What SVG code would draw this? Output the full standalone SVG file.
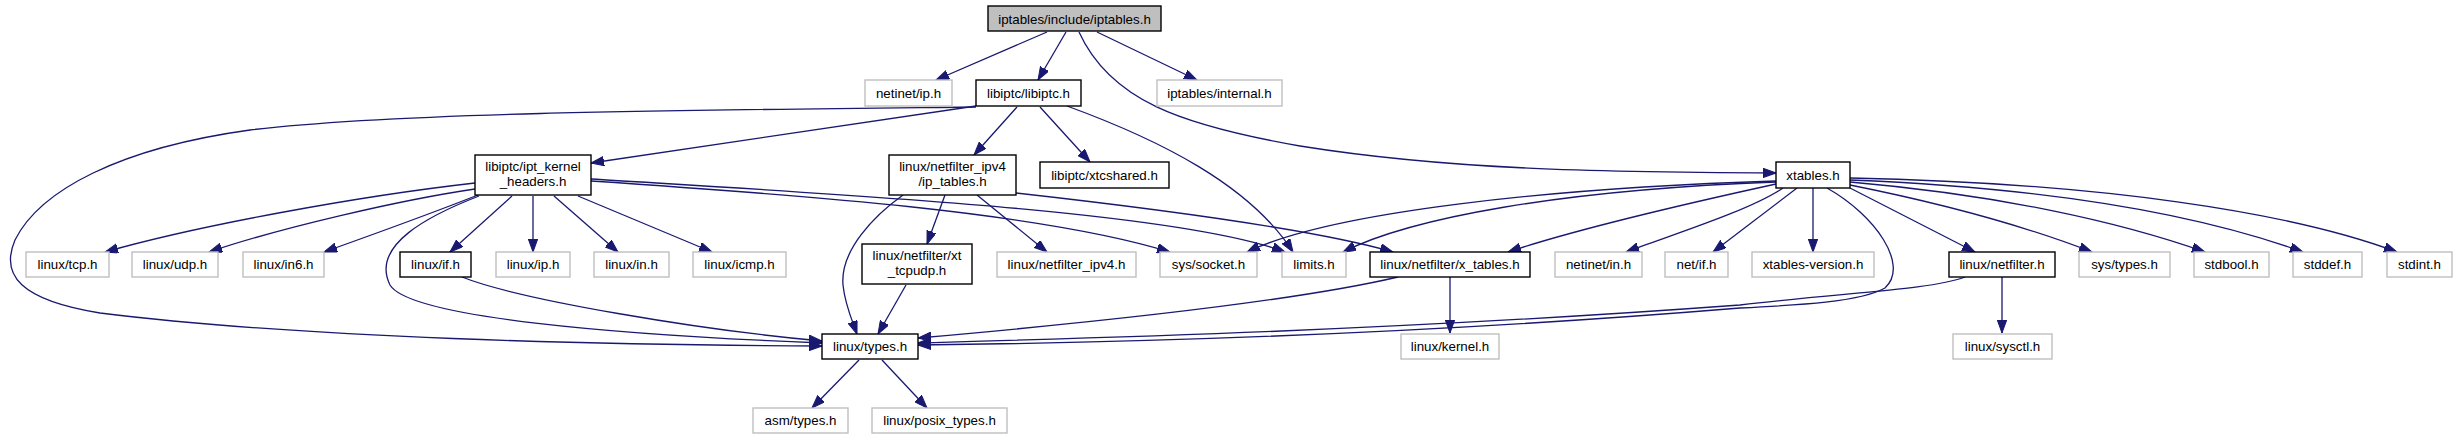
<svg xmlns="http://www.w3.org/2000/svg" width="2458" height="440" viewBox="0 0 2458 440">
<style>
.n rect{fill:#fff;stroke-width:1.4}
.g rect{stroke:#bfbfbf}
.b rect{stroke:#000}
.root rect{fill:#bfbfbf;stroke:#000}
text{font-family:"Liberation Sans",Arial,Helvetica,sans-serif;font-size:13.33px;text-anchor:middle;fill:#000}
#edges path{fill:none;stroke:#191970;stroke-width:1.3;marker-end:url(#ah)}
</style>
<defs>
<marker id="ah" markerUnits="userSpaceOnUse" markerWidth="14" markerHeight="10" refX="13" refY="4.7" orient="auto">
<path d="M0,0 L13,4.7 L0,9.4 z" fill="#191970" stroke="#191970" stroke-width="1"/>
</marker>
</defs>
<rect width="2458" height="440" fill="#fff"/>
<g id="edges">
<path d="M1047,32 L936,80"/>
<path d="M1066,32 L1038,80"/>
<path d="M1097,32 L1197,80"/>
<path d="M1079,32 C1110,100 1180,125 1300,146 C1450,170 1600,172 1776,173"/>
<path d="M976,107 C700,110 400,112 250,130 C120,148 40,190 15,240 C0,275 20,300 100,313 C300,338 600,345 822,346"/>
<path d="M976,106 L591,163"/>
<path d="M1017,107 L974,155"/>
<path d="M1040,107 L1090,162"/>
<path d="M1067,106 C1160,140 1250,185 1293,252"/>
<path d="M475,183 C360,196 200,225 105,252"/>
<path d="M475,189 C400,200 280,228 209,252"/>
<path d="M478,195 C440,210 380,232 324,252"/>
<path d="M479,196 C430,215 370,245 390,285 C410,318 620,335 822,343"/>
<path d="M512,196 L450,252"/>
<path d="M533,196 L533,252"/>
<path d="M554,196 L618,252"/>
<path d="M578,196 L712,252"/>
<path d="M591,181 C800,195 1040,212 1170,252"/>
<path d="M591,179 C850,195 1180,212 1285,252"/>
<path d="M903,195 C875,215 840,250 843,285 C845,305 852,320 857,334"/>
<path d="M945,195 L927,244"/>
<path d="M977,195 L1047,252"/>
<path d="M1016,193 C1150,208 1310,228 1393,252"/>
<path d="M906,285 L878,334"/>
<path d="M462,277 C520,300 700,330 822,341"/>
<path d="M1398,277 C1300,300 1100,322 918,338"/>
<path d="M1450,277 L1450,333"/>
<path d="M1965,277 C1930,290 1850,292 1740,305 C1400,330 1100,338 918,343"/>
<path d="M1827,188 C1875,215 1910,265 1885,288 C1860,302 1800,305 1740,308 C1400,336 1100,343 918,345"/>
<path d="M2002,277 L2002,333"/>
<path d="M1776,181 C1550,188 1330,212 1247,252"/>
<path d="M1776,182 C1560,190 1410,218 1343,252"/>
<path d="M1776,184 C1680,205 1580,228 1508,252"/>
<path d="M1783,188 C1750,210 1680,232 1626,252"/>
<path d="M1797,188 L1713,252"/>
<path d="M1813,188 L1813,252"/>
<path d="M1850,188 L1975,252"/>
<path d="M1850,185 C1950,205 2030,228 2092,252"/>
<path d="M1850,182 C2000,195 2120,222 2205,252"/>
<path d="M1850,180 C2050,188 2200,215 2303,252"/>
<path d="M1850,178 C2100,183 2290,212 2397,252"/>
<path d="M859,360 L812,408"/>
<path d="M882,360 L927,408"/>
</g>
<g id="n_iptables" class="n root"><rect x="988" y="6" width="173" height="25"/><text x="1074.5" y="23.5">iptables/include/iptables.h</text></g>
<g id="n_netinet_ip" class="n g"><rect x="865" y="80" width="87" height="26"/><text x="908.5" y="97.5">netinet/ip.h</text></g>
<g id="n_libiptc" class="n b"><rect x="976" y="80" width="105" height="26"/><text x="1028.5" y="97.5">libiptc/libiptc.h</text></g>
<g id="n_internal" class="n g"><rect x="1157" y="80" width="125" height="26"/><text x="1219.5" y="97.5">iptables/internal.h</text></g>
<g id="n_ipt_kernel" class="n b"><rect x="475" y="155" width="116" height="40"/><text x="533" y="171">libiptc/ipt_kernel</text><text x="533" y="186">_headers.h</text></g>
<g id="n_ip_tables" class="n b"><rect x="889" y="155" width="127" height="40"/><text x="952.5" y="171">linux/netfilter_ipv4</text><text x="952.5" y="186">/ip_tables.h</text></g>
<g id="n_xtcshared" class="n b"><rect x="1040" y="162" width="129" height="26"/><text x="1104.5" y="179.5">libiptc/xtcshared.h</text></g>
<g id="n_xtables" class="n b"><rect x="1776" y="162" width="74" height="26"/><text x="1813" y="179.5">xtables.h</text></g>
<g id="n_tcp" class="n g"><rect x="26" y="252" width="83" height="25"/><text x="67.5" y="269">linux/tcp.h</text></g>
<g id="n_udp" class="n g"><rect x="132" y="252" width="86" height="25"/><text x="175" y="269">linux/udp.h</text></g>
<g id="n_in6" class="n g"><rect x="243" y="252" width="81" height="25"/><text x="283.5" y="269">linux/in6.h</text></g>
<g id="n_if" class="n b"><rect x="400" y="252" width="71" height="25"/><text x="435.5" y="269">linux/if.h</text></g>
<g id="n_ip" class="n g"><rect x="496" y="252" width="74" height="25"/><text x="533" y="269">linux/ip.h</text></g>
<g id="n_in" class="n g"><rect x="594" y="252" width="75" height="25"/><text x="631.5" y="269">linux/in.h</text></g>
<g id="n_icmp" class="n g"><rect x="693" y="252" width="93" height="25"/><text x="739.5" y="269">linux/icmp.h</text></g>
<g id="n_xt_tcpudp" class="n b"><rect x="862" y="244" width="110" height="40"/><text x="917" y="260">linux/netfilter/xt</text><text x="917" y="275">_tcpudp.h</text></g>
<g id="n_netfilter_ipv4" class="n g"><rect x="997" y="252" width="139" height="25"/><text x="1066.5" y="269">linux/netfilter_ipv4.h</text></g>
<g id="n_sys_socket" class="n g"><rect x="1160" y="252" width="97" height="25"/><text x="1208.5" y="269">sys/socket.h</text></g>
<g id="n_limits" class="n g"><rect x="1282" y="252" width="64" height="25"/><text x="1314" y="269">limits.h</text></g>
<g id="n_x_tables" class="n b"><rect x="1370" y="252" width="160" height="25"/><text x="1450" y="269">linux/netfilter/x_tables.h</text></g>
<g id="n_netinet_in" class="n g"><rect x="1555" y="252" width="87" height="25"/><text x="1598.5" y="269">netinet/in.h</text></g>
<g id="n_net_if" class="n g"><rect x="1665" y="252" width="63" height="25"/><text x="1696.5" y="269">net/if.h</text></g>
<g id="n_xtables_version" class="n g"><rect x="1752" y="252" width="122" height="25"/><text x="1813" y="269">xtables-version.h</text></g>
<g id="n_netfilter" class="n b"><rect x="1949" y="252" width="106" height="25"/><text x="2002" y="269">linux/netfilter.h</text></g>
<g id="n_sys_types" class="n g"><rect x="2079" y="252" width="91" height="25"/><text x="2124.5" y="269">sys/types.h</text></g>
<g id="n_stdbool" class="n g"><rect x="2194" y="252" width="75" height="25"/><text x="2231.5" y="269">stdbool.h</text></g>
<g id="n_stddef" class="n g"><rect x="2293" y="252" width="69" height="25"/><text x="2327.5" y="269">stddef.h</text></g>
<g id="n_stdint" class="n g"><rect x="2387" y="252" width="65" height="25"/><text x="2419.5" y="269">stdint.h</text></g>
<g id="n_linux_types" class="n b"><rect x="822" y="334" width="96" height="25"/><text x="870" y="351">linux/types.h</text></g>
<g id="n_kernel" class="n g"><rect x="1401" y="334" width="98" height="25"/><text x="1450" y="351">linux/kernel.h</text></g>
<g id="n_sysctl" class="n g"><rect x="1953" y="334" width="99" height="25"/><text x="2002.5" y="351">linux/sysctl.h</text></g>
<g id="n_asm_types" class="n g"><rect x="753" y="408" width="95" height="25"/><text x="800.5" y="425">asm/types.h</text></g>
<g id="n_posix_types" class="n g"><rect x="872" y="408" width="135" height="25"/><text x="939.5" y="425">linux/posix_types.h</text></g>
</svg>
